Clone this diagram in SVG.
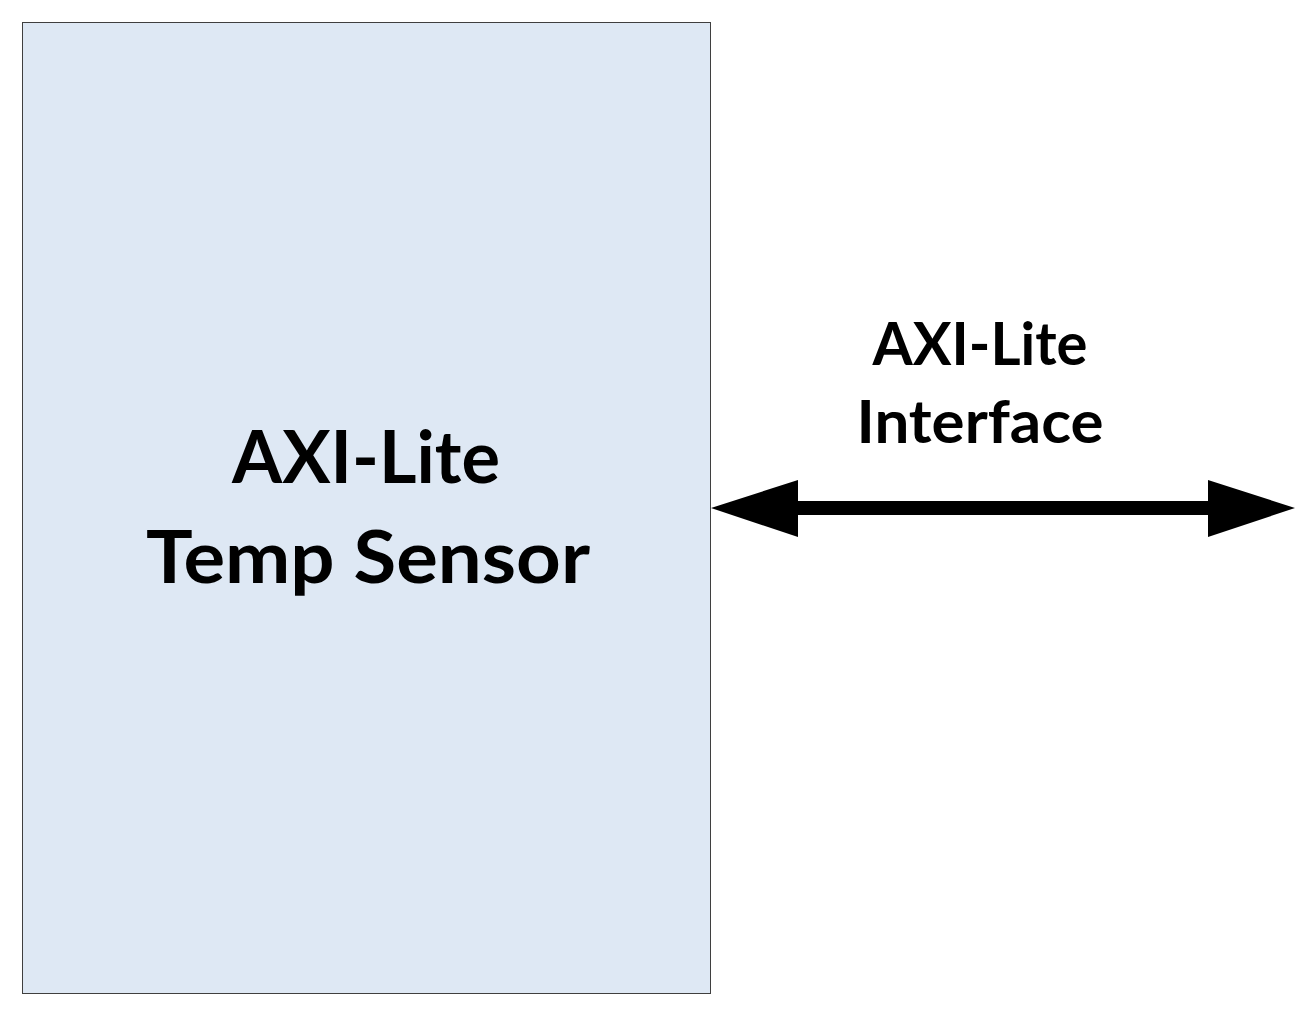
<svg xmlns="http://www.w3.org/2000/svg" width="1316" height="1017" viewBox="0 0 1316 1017">
<style>
.lbl{font-family:Lato,"Open Sans","Liberation Sans",sans-serif;font-weight:bold;fill:#000;text-anchor:middle}
</style>
<rect width="1316" height="1017" fill="#fff"/>
<g id="node-temp-sensor">
<rect x="22.5" y="22.5" width="688" height="971" fill="#dee8f4" stroke="#3f3f3f" stroke-width="1"/>
<text class="lbl" x="366" y="483" font-size="73" textLength="268" lengthAdjust="spacingAndGlyphs">AXI-Lite</text>
<text class="lbl" x="368" y="583" font-size="73" textLength="444" lengthAdjust="spacingAndGlyphs">Temp Sensor</text>
</g>
<g id="node-interface-label">
<text class="lbl" x="980" y="365" font-size="60" textLength="215" lengthAdjust="spacingAndGlyphs">AXI-Lite</text>
<text class="lbl" x="980" y="443" font-size="60" textLength="247" lengthAdjust="spacingAndGlyphs">Interface</text>
</g>
<g id="connectors">
<path d="M711,508 L798,480 L798,501 L1208,501 L1208,480 L1295,508 L1208,537 L1208,515 L798,515 L798,537 Z" fill="#000"/>
</g>
</svg>
